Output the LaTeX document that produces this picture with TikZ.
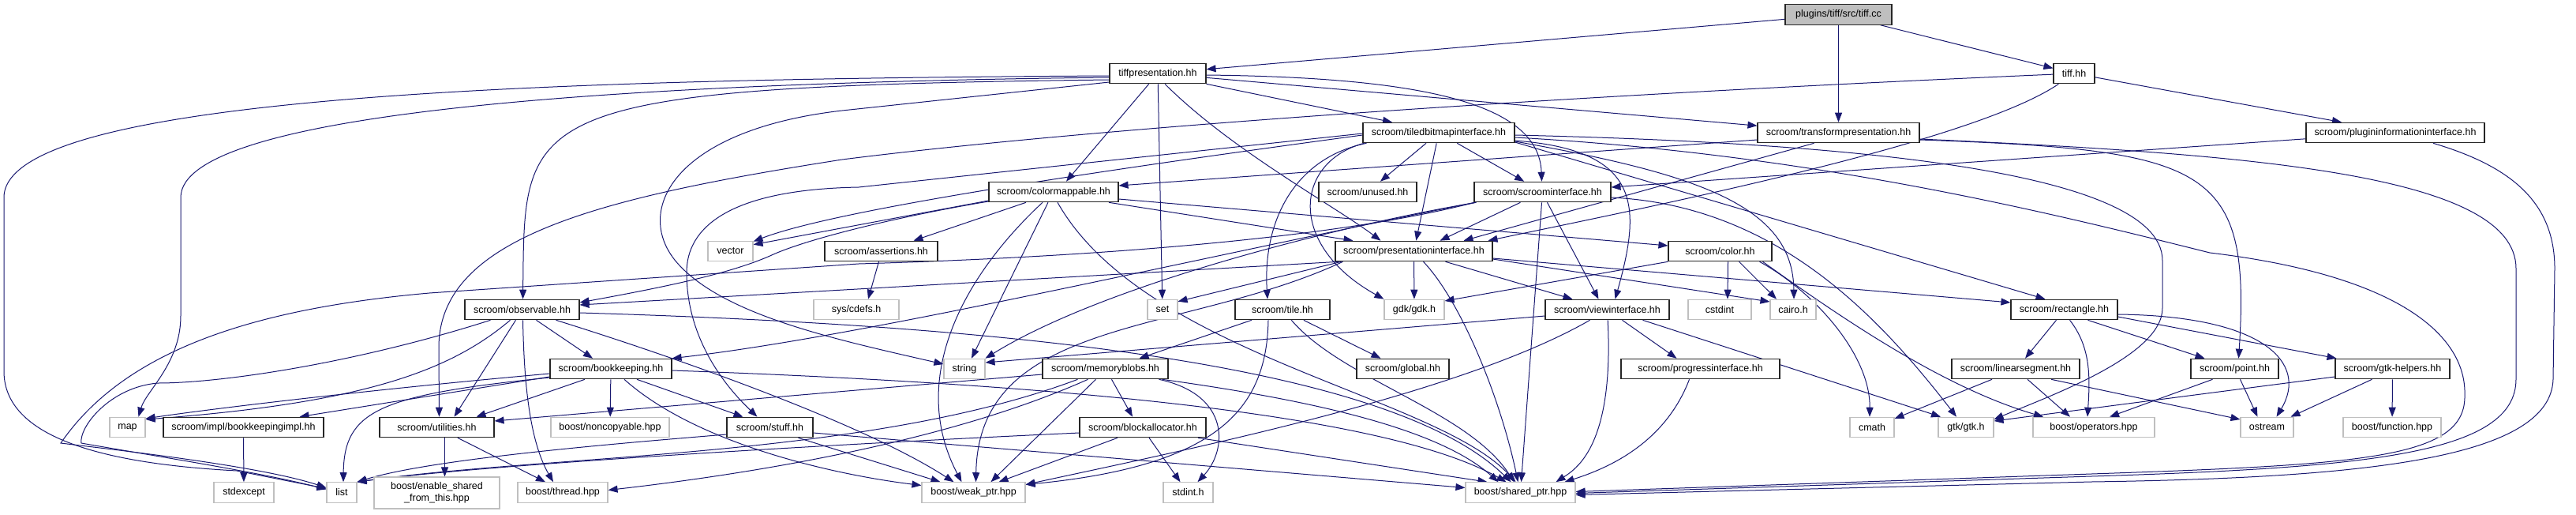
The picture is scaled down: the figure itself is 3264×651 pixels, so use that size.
\documentclass[tikz,border=0pt]{standalone}
\usepackage{fontspec}
\setmainfont{Liberation Sans}
\usetikzlibrary{arrows.meta}
\definecolor{edgec}{HTML}{191970}
\definecolor{extc}{HTML}{BFBFBF}
\pgfdeclarelayer{bg}
\pgfsetlayers{bg,main}
\tikzset{
 nbox/.style={rectangle, inner sep=0pt, minimum height=25.5pt, font=\fontsize{12.5}{15}\selectfont, fill=white, line width=1.1pt, text=black},
 doc/.style={nbox, draw=black!85},
 ext/.style={nbox, draw=extc},
 rootnode/.style={nbox, draw=black!85, fill=extc},
 dep/.style={draw=edgec, line width=1pt, -{Triangle[length=12pt,width=9pt]}},
}
\begin{document}
\begin{tikzpicture}[x=1pt,y=-1pt]
\useasboundingbox (0,0) rectangle (3264,651);
% nodes
\node[rootnode, minimum width=135] (tiffcc) at (2329.5,18.5) {plugins/tiff/src/tiff.cc};
\node[doc, minimum width=122] (tiffpres) at (1467,93) {tiffpresentation.hh};
\node[doc, minimum width=52] (tiffhh) at (2628,93) {tiff.hh};
\node[doc, minimum width=192] (tiled) at (1823,168) {scroom/tiledbitmapinterface.hh};
\node[doc, minimum width=205] (transform) at (2329.5,168) {scroom/transformpresentation.hh};
\node[doc, minimum width=226] (plugin) at (3035,168) {scroom/plugininformationinterface.hh};
\node[doc, minimum width=164] (colormap) at (1335,243) {scroom/colormappable.hh};
\node[doc, minimum width=124] (unused) at (1733,243) {scroom/unused.hh};
\node[doc, minimum width=173] (scroomif) at (1954.5,243) {scroom/scroominterface.hh};
\node[ext, minimum width=57] (vector) at (925.5,318) {vector};
\node[doc, minimum width=143] (assert) at (1116.5,318) {scroom/assertions.hh};
\node[doc, minimum width=199] (presif) at (1791.5,318) {scroom/presentationinterface.hh};
\node[doc, minimum width=131] (color) at (2179.5,318) {scroom/color.hh};
\node[doc, minimum width=145] (observ) at (661.5,392) {scroom/observable.hh};
\node[ext, minimum width=108] (cdefs) at (1085,392) {sys/cdefs.h};
\node[ext, minimum width=38] (set) at (1473,392) {set};
\node[doc, minimum width=120] (tile) at (1625,392) {scroom/tile.hh};
\node[ext, minimum width=76] (gdk) at (1792,392) {gdk/gdk.h};
\node[doc, minimum width=157] (viewif) at (2036.5,392) {scroom/viewinterface.hh};
\node[ext, minimum width=80] (cstdint) at (2179,392) {cstdint};
\node[ext, minimum width=58] (cairo) at (2272,392) {cairo.h};
\node[doc, minimum width=135] (rect) at (2615.5,392) {scroom/rectangle.hh};
\node[doc, minimum width=154] (bookk) at (774,467) {scroom/bookkeeping.hh};
\node[ext, minimum width=52] (string) at (1222,467) {string};
\node[doc, minimum width=159] (memblob) at (1400.5,467) {scroom/memoryblobs.hh};
\node[doc, minimum width=117] (global) at (1777.5,467) {scroom/global.hh};
\node[doc, minimum width=201] (progress) at (2154.5,467) {scroom/progressinterface.hh};
\node[doc, minimum width=162] (linseg) at (2554,467) {scroom/linearsegment.hh};
\node[doc, minimum width=111] (point) at (2831.5,467) {scroom/point.hh};
\node[doc, minimum width=145] (gtkhelp) at (3031.5,467) {scroom/gtk-helpers.hh};
\node[ext, minimum width=45] (map) at (161.5,541) {map};
\node[doc, minimum width=203] (bkimpl) at (308.5,541) {scroom/impl/bookkeepingimpl.hh};
\node[doc, minimum width=145] (util) at (553.5,541) {scroom/utilities.hh};
\node[ext, minimum width=150] (noncopy) at (773,541) {boost/noncopyable.hpp};
\node[doc, minimum width=109] (stuff) at (975.5,541) {scroom/stuff.hh};
\node[doc, minimum width=160] (blockalloc) at (1448,541) {scroom/blockallocator.hh};
\node[ext, minimum width=56] (cmath) at (2372,541) {cmath};
\node[ext, minimum width=70] (gtk) at (2491,541) {gtk/gtk.h};
\node[ext, minimum width=154] (operators) at (2653,541) {boost/operators.hpp};
\node[ext, minimum width=67] (ostream) at (2872.5,541) {ostream};
\node[ext, minimum width=124] (function) at (3031,541) {boost/function.hpp};
\node[ext, minimum width=76] (stdexcept) at (309,623.5) {stdexcept};
\node[ext, minimum width=38] (list) at (433,623.5) {list};
\node[ext, minimum width=159, minimum height=40, align=center] (enable) at (553.5,624) {boost/enable\_shared\\\_from\_this.hpp};
\node[ext, minimum width=114] (thread) at (713,623.5) {boost/thread.hpp};
\node[ext, minimum width=131] (weak) at (1233.5,623.5) {boost/weak\_ptr.hpp};
\node[ext, minimum width=63] (stdint) at (1505.5,623.5) {stdint.h};
\node[ext, minimum width=139] (shared) at (1926.5,623.5) {boost/shared\_ptr.hpp};

\begin{pgfonlayer}{bg}
% tiff.cc
\draw[dep] (tiffcc) -- (tiffpres);
\draw[dep] (tiffcc) -- (transform);
\draw[dep] (tiffcc) -- (tiffhh);
% tiffpresentation.hh
\draw[dep] ([yshift=-3]tiffpres.west) .. controls (700,100) and (5,120) .. (5,250) -- (5,470) .. controls (5,560) and (150,588) .. (300,596) -- ([yshift=5]list.west);
\draw[dep] ([yshift=-5]tiffpres.west) .. controls (800,105) and (229,140) .. (229,250) -- (229,400) .. controls (229,460) and (185,495) .. ([xshift=14]map.north);
\draw[dep] ([yshift=-8]tiffpres.west) .. controls (650,110) and (665,140) .. ([xshift=1]observ.north);
\draw[dep] ([yshift=-11]tiffpres.west) -- (1067,140) .. controls (850,165) and (800,270) .. (860,335) .. controls (920,400) and (1060,430) .. ([yshift=6]string.west);
\draw[dep] (tiffpres) -- ([xshift=16]colormap.north);
\draw[dep] (tiffpres) -- (set);
\draw[dep] ([xshift=9]tiffpres.south) .. controls (1560,190) and (1690,260) .. ([xshift=-42]presif.north);
\draw[dep] (tiffpres.south east) -- ([xshift=-59]tiled.north);
\draw[dep] (tiffpres) -- (transform);
\draw[dep] ([yshift=-2]tiffpres.east) .. controls (1800,98) and (1950,130) .. ([xshift=-1]scroomif.north);
% tiff.hh
\draw[dep] (tiffhh) -- ([xshift=-68]plugin.north);
\draw[dep] (tiffhh) .. controls (2000,120) and (1400,160) .. (1067,202) .. controls (760,250) and (556,300) .. (556,440) -- ([xshift=3]util.north);
\draw[dep] (tiffhh) .. controls (2500,180) and (2100,260) .. ([xshift=94]presif.north);
% tiledbitmapinterface.hh
\draw[dep] (tiled) -- (unused);
\draw[dep] (tiled) -- (scroomif);
\draw[dep] (tiled) -- (presif);
\draw[dep] ([yshift=-3]tiled.west) .. controls (1400,215) and (1060,265) .. ([yshift=-1]vector.north east);
\draw[dep] ([yshift=-1]tiled.west) -- (1088,237) .. controls (920,240) and (870,290) .. (870,345) .. controls (870,430) and (920,490) .. ([xshift=-16]stuff.north);
\draw[dep] ([xshift=5]tiled.south west) .. controls (1640,200) and (1600,280) .. ([xshift=-19]tile.north);
\draw[dep] ([xshift=2]tiled.south west) .. controls (1640,205) and (1630,310) .. (gdk.north west);
\draw[dep] ([yshift=-10]tiled.east) .. controls (2080,190) and (2080,260) .. ([xshift=10]viewif.north);
\draw[dep] ([yshift=-11]tiled.east) .. controls (2150,220) and (2272,260) .. ([xshift=1]cairo.north);
\draw[dep] ([yshift=-12]tiled.east) -- ([xshift=-24]rect.north);
\draw[dep] ([yshift=-3]tiled.east) .. controls (2300,180) and (2740,210) .. (2740,330) -- (2740,390) .. controls (2740,450) and (2600,500) .. ([yshift=10]gtk.east);
\draw[dep] ([yshift=-6]tiled.east) .. controls (2300,195) and (2600,270) .. (2800,320) .. controls (3050,350) and (3125,430) .. (3123,500) .. controls (3125,580) and (3000,588) .. (2650,600) -- ([yshift=1]shared.east);
% transformpresentation.hh
\draw[dep] ([yshift=-9]transform.west) -- ([yshift=8]colormap.east);
\draw[dep] ([xshift=-31]transform.south) -- ([xshift=63]presif.north);
\draw[dep] ([yshift=-9]transform.east) .. controls (2800,190) and (2852,210) .. ([xshift=5]point.north);
\draw[dep] ([yshift=-8]transform.east) .. controls (2850,195) and (3188,220) .. (3188,340) -- (3188,480) .. controls (3188,575) and (3000,592) .. (2650,603) -- ([yshift=-1]shared.east);
% plugininformationinterface.hh
\draw[dep] (plugin) -- (scroomif);
\draw[dep] ([xshift=48]plugin.south) .. controls (3180,210) and (3237,255) .. (3237,340) -- (3235,480) .. controls (3232,580) and (3000,605) .. (2650,610) -- ([yshift=-3]shared.east);
% colormappable.hh
\draw[dep] ([yshift=-11]colormap.west) -- ([yshift=-5]vector.north east);
\draw[dep] ([yshift=-12]colormap.west) .. controls (1150,272) and (1030,300) .. (980,322) .. controls (930,345) and (850,362) .. ([yshift=9]observ.east);
\draw[dep] ([xshift=-35]colormap.south) -- ([xshift=41]assert.north);
\draw[dep] ([xshift=-14]colormap.south) .. controls (1220,350) and (1150,480) .. ([xshift=-15]weak.north);
\draw[dep] ([xshift=-7]colormap.south) -- ([xshift=9]string.north);
\draw[dep] ([xshift=5]colormap.south) .. controls (1450,450) and (1820,500) .. ([xshift=-6]shared.north);
\draw[dep] ([xshift=70]colormap.south) -- ([xshift=-77]presif.north);
\draw[dep] ([yshift=-9]colormap.east) -- ([yshift=7]color.west);
% scroominterface.hh
\draw[dep] (scroomif) -- ([xshift=33]presif.north);
\draw[dep] ([xshift=6]scroomif.south) -- ([xshift=-11]viewif.north);
\draw[dep] (scroomif) -- ([xshift=1]shared.north);
\draw[dep] ([xshift=-84]scroomif.south) .. controls (1700,285) and (1400,360) .. (string.north east);
\draw[dep] ([xshift=-85]scroomif.south) .. controls (1500,330) and (1100,425) .. (bookk.north east);
\draw[dep] ([xshift=-86]scroomif.south) .. controls (1700,300) and (1400,325) .. (1088,334) -- (544,371) .. controls (330,390) and (160,440) .. (77,561) .. controls (150,570) and (330,590) .. ([yshift=6]list.west);
\draw[dep] ([yshift=-7]scroomif.east) .. controls (2250,260) and (2380,400) .. ([xshift=-12]gtk.north);
% presentationinterface.hh
\draw[dep] ([xshift=-95]presif.south) -- ([yshift=6]observ.east);
\draw[dep] ([xshift=-92]presif.south) -- ([yshift=-3]set.north east);
\draw[dep] ([xshift=-90]presif.south) .. controls (1500,425) and (1240,400) .. ([xshift=3]weak.north);
\draw[dep] (presif) -- (gdk);
\draw[dep] ([xshift=12]presif.south) .. controls (1850,380) and (1900,500) .. ([xshift=-3]shared.north);
\draw[dep] ([xshift=40]presif.south) -- ([xshift=-44]viewif.north);
\draw[dep] ([yshift=-10]presif.east) -- ([yshift=10]cairo.west);
\draw[dep] ([yshift=-9]presif.east) -- ([yshift=9]rect.west);
% assertions.hh
\draw[dep] ([xshift=-3]assert.south) -- ([xshift=15]cdefs.north);
% color.hh
\draw[dep] ([xshift=10]color.south) -- ([xshift=10]cstdint.north);
\draw[dep] ([xshift=24]color.south) -- ([xshift=-21]cairo.north);
\draw[dep] (color.south west) -- ([yshift=11]gdk.east);
\draw[dep] ([xshift=50]color.south) .. controls (2300,370) and (2370,450) .. ([xshift=-3]cmath.north);
\draw[dep] ([xshift=54]color.south) .. controls (2330,400) and (2460,490) .. ([xshift=-64]operators.north);
% observable.hh
\draw[dep] ([xshift=-40]observ.south) .. controls (450,460) and (280,485) .. (200,485) .. controls (140,490) and (100,540) .. (103,561) .. controls (200,578) and (330,598) .. ([yshift=4]list.west);
\draw[dep] ([xshift=-15]observ.south) .. controls (570,470) and (460,510) .. ([yshift=10]map.east);
\draw[dep] ([xshift=-8]observ.south) -- ([xshift=22]util.north);
\draw[dep] ([xshift=1]observ.south) .. controls (664,490) and (672,560) .. ([xshift=-12]thread.north);
\draw[dep] ([xshift=18]observ.south) -- ([xshift=-23]bookk.north);
\draw[dep] ([xshift=43]observ.south) .. controls (880,460) and (1100,540) .. ([xshift=-25]weak.north);
\draw[dep] ([yshift=-4]observ.east) .. controls (1200,410) and (1750,450) .. ([xshift=-12]shared.north);
% tile.hh
\draw[dep] (tile) -- ([xshift=43]memblob.north);
\draw[dep] (tile) -- ([xshift=-28]global.north);
\draw[dep] (tile) .. controls (1700,480) and (1860,520) .. ([xshift=-8]shared.north);
\draw[dep] ([xshift=-18]tile.south) .. controls (1605,520) and (1540,590) .. ([yshift=10]weak.east);
% viewinterface.hh
\draw[dep] ([yshift=-8]viewif.west) -- ([yshift=8]string.east);
\draw[dep] ([xshift=45]viewif.south) -- ([xshift=-32]gtk.north);
\draw[dep] ([xshift=-22]viewif.south) .. controls (1850,500) and (1500,570) .. ([yshift=10]weak.east);
\draw[dep] (viewif) -- ([xshift=-30]progress.north);
\draw[dep] (viewif) .. controls (2045,560) and (2000,592) .. ([xshift=45]shared.north);
% progressinterface.hh
\draw[dep] ([xshift=-14]progress.south) .. controls (2110,560) and (2040,592) .. ([xshift=56]shared.north);
% rectangle.hh
\draw[dep] ([xshift=-10]rect.south) -- ([xshift=12]linseg.north);
\draw[dep] ([xshift=7]rect.south) .. controls (2650,440) and (2648,480) .. ([xshift=-8]operators.north);
\draw[dep] ([xshift=30]rect.south) -- ([xshift=-38]point.north);
\draw[dep] ([yshift=-9]rect.east) -- ([xshift=-71]gtkhelp.north);
\draw[dep] ([yshift=-6]rect.east) .. controls (2870,400) and (2925,460) .. ([xshift=12]ostream.north);
% linearsegment.hh
\draw[dep] ([xshift=-30]linseg.south) -- ([yshift=11]cmath.east);
\draw[dep] ([xshift=15]linseg.south) -- ([xshift=-30]operators.north);
\draw[dep] ([xshift=45]linseg.south) -- ([yshift=10]ostream.west);
% point.hh
\draw[dep] ([xshift=-28]point.south) -- ([xshift=20]operators.north);
\draw[dep] ([xshift=7]point.south) -- ([xshift=-12]ostream.north);
% gtk-helpers.hh
\draw[dep] ([yshift=-10]gtkhelp.west) -- ([yshift=8]gtk.east);
\draw[dep] ([xshift=-26]gtkhelp.south) -- ([xshift=30]ostream.north);
\draw[dep] (gtkhelp) -- (function);
% bookkeeping.hh
\draw[dep] ([yshift=-6]bookk.west) .. controls (450,495) and (250,520) .. ([yshift=11]map.east);
\draw[dep] ([yshift=-10]bookk.west) -- ([xshift=71]bkimpl.north);
\draw[dep] ([yshift=-11]bookk.west) .. controls (480,500) and (436,520) .. ([xshift=2]list.north);
\draw[dep] ([xshift=-33]bookk.south) -- ([xshift=50]util.north);
\draw[dep] (bookk) -- (noncopy);
\draw[dep] ([xshift=33]bookk.south) -- ([xshift=-34]stuff.north);
\draw[dep] ([xshift=17]bookk.south) .. controls (880,560) and (1050,600) .. ([yshift=9]weak.west);
\draw[dep] ([yshift=-2]bookk.east) .. controls (1300,485) and (1750,520) .. ([xshift=-18]shared.north);
% stuff.hh
\draw[dep] ([yshift=-9]stuff.west) .. controls (800,560) and (550,580) .. (list.north east);
\draw[dep] ([xshift=36]stuff.south) -- ([xshift=-42]weak.north);
\draw[dep] ([yshift=-7]stuff.east) -- ([yshift=6]shared.west);
% memoryblobs.hh
\draw[dep] ([yshift=-7]memblob.west) -- ([yshift=8]util.east);
\draw[dep] ([xshift=-35]memblob.south) .. controls (1100,580) and (700,575) .. (list.north east);
\draw[dep] ([xshift=-22]memblob.south) .. controls (1200,560) and (950,600) .. ([yshift=3]thread.east);
\draw[dep] ([xshift=-12]memblob.south) -- ([xshift=22]weak.north);
\draw[dep] ([xshift=8]memblob.south) -- ([xshift=-13]blockalloc.north);
\draw[dep] ([xshift=68]memblob.south) .. controls (1560,500) and (1555,570) .. ([xshift=12]stdint.north);
\draw[dep] ([xshift=72]memblob.south) .. controls (1650,505) and (1820,540) .. ([xshift=-28]shared.north);
% blockallocator.hh
\draw[dep] ([yshift=-7]blockalloc.west) .. controls (1000,565) and (600,590) .. (list.north east);
\draw[dep] ([xshift=-32]blockalloc.south) -- ([xshift=32]weak.north);
\draw[dep] ([xshift=8]blockalloc.south) -- ([xshift=-10]stdint.north);
\draw[dep] ([xshift=70]blockalloc.south) -- ([xshift=-42]shared.north);
% utilities.hh
\draw[dep] ([xshift=10]util.south) -- ([xshift=10]enable.north);
\draw[dep] (util) -- ([xshift=-22]thread.north);
% bookkeepingimpl.hh
\draw[dep] (bkimpl) -- (stdexcept);
\end{pgfonlayer}
\end{tikzpicture}
\end{document}
